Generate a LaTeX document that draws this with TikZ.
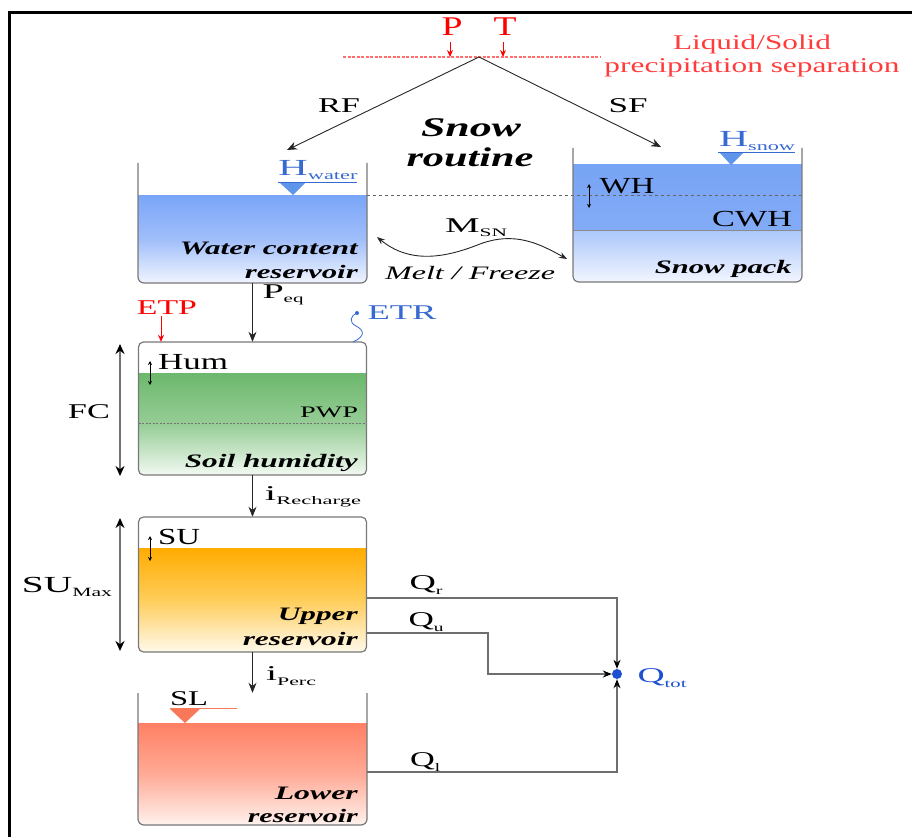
\documentclass[tikz,border=0pt]{standalone}
\usepackage{fontspec}
\setmainfont{LiberationSerif}[Extension=.ttf, UprightFont=*-Regular, BoldFont=*-Bold, ItalicFont=*-Italic, BoldItalicFont=*-BoldItalic]
\usepackage{graphicx}
\usetikzlibrary{arrows.meta,calc}

\definecolor{pred}{RGB}{255,0,0}
\definecolor{lred}{RGB}{255,60,60}
\definecolor{dred}{RGB}{255,110,110}
\definecolor{hblue}{RGB}{55,105,210}
\definecolor{tblue}{RGB}{95,150,235}
\definecolor{wtop}{RGB}{122,165,248}
\definecolor{wmid}{RGB}{160,190,250}
\definecolor{wbot}{RGB}{240,245,255}
\definecolor{stopc}{RGB}{120,164,245}
\definecolor{smid}{RGB}{170,198,250}
\definecolor{sbot}{RGB}{242,246,255}
\definecolor{gtop}{RGB}{108,184,108}
\definecolor{gmid}{RGB}{150,205,150}
\definecolor{gbot}{RGB}{242,249,242}
\definecolor{otop}{RGB}{255,172,0}
\definecolor{omid}{RGB}{255,205,90}
\definecolor{obot}{RGB}{255,249,235}
\definecolor{rtop}{RGB}{255,128,100}
\definecolor{rmid}{RGB}{255,170,150}
\definecolor{rbot}{RGB}{255,242,238}
\definecolor{rimc}{RGB}{120,120,120}
\definecolor{qline}{RGB}{110,110,110}
\definecolor{salm}{RGB}{250,120,90}
\definecolor{qdot}{RGB}{30,80,210}

\newcommand\fw[2]{\resizebox{#1pt}{\height}{#2}}
\newcommand\sbs[1]{\raisebox{-0.45ex}{\scalebox{0.55}{#1}}}

\tikzset{
 lbl/.style={inner sep=0pt, font=\fontsize{21}{24}\selectfont},
 lbb/.style={inner sep=0pt, font=\fontsize{23}{26}\selectfont},
 bxl/.style={inner sep=0pt, anchor=east, font=\fontsize{19}{22}\selectfont\bfseries\itshape},
 box/.style={inner sep=0pt, draw=none},
 rim/.style={draw=rimc, line width=1.2pt},
 arr/.style={draw=black!85, line width=0.9pt, -{Stealth[length=10pt,width=8pt]}},
 redarr/.style={draw=pred, line width=1pt, -{Stealth[length=7pt,width=6pt]}},
 qln/.style={draw=qline, line width=1.2pt, -{Stealth[length=9pt,width=7pt,color=black]}},
 dblarr/.style={draw=black!55, line width=2.5pt, {Stealth[length=10pt,width=9pt,color=black]}-{Stealth[length=10pt,width=9pt,color=black]}},
 sdbl/.style={draw=black, line width=0.7pt, {Stealth[length=4pt,width=4pt]}-{Stealth[length=4pt,width=4pt]}},
 lvldash/.style={draw=black!60, line width=0.7pt, dash pattern=on 3pt off 3pt},
}

\begin{document}
\begin{tikzpicture}[x=1pt,y=-1pt]
\useasboundingbox (0,0) rectangle (912,837);

% frame
\draw[line width=3pt] (9,837) -- (9,13) -- (912,13);

% ---------- box placeholders (names) ----------
\node[box, minimum width=229pt, minimum height=120pt] (wcr) at (252.5,223) {};
\node[box, minimum width=229pt, minimum height=134pt] (snow) at (687.5,215) {};
\node[box, minimum width=228pt, minimum height=133pt] (soil) at (252.5,408.5) {};
\node[box, minimum width=228pt, minimum height=135pt] (upper) at (252.5,584.5) {};
\node[box, minimum width=229pt, minimum height=132pt] (lower) at (252.5,759) {};

% ---------- precipitation separation ----------
\node[lbl, text=pred, font=\fontsize{27}{28}\selectfont] (lP) at (452,27) {\fw{21}{P}};
\node[lbl, text=pred, font=\fontsize{27}{28}\selectfont] (lT) at (505,27) {\fw{23}{T}};
\coordinate (pA) at (450,42); \coordinate (pB) at (450,57);
\coordinate (tA) at (503,42); \coordinate (tB) at (503,57);
\draw[redarr] (pA) -- (pB);
\draw[redarr] (tA) -- (tB);
\coordinate (sepL) at (343,57); \coordinate (sepR) at (601,57);
\draw[draw=dred, line width=1.1pt, dash pattern=on 3pt off 1.5pt] (sepL) -- (sepR);
\node[lbl, text=lred] (liq) at (752,44) {\fw{158}{Liquid/Solid}};
\node[lbl, text=lred] (prec) at (752,68) {\fw{295}{precipitation separation}};

\coordinate (apex) at (479,57);
\coordinate (rfEnd) at (287,150);
\coordinate (sfEnd) at (661,147);
\draw[arr] (apex) -- (rfEnd);
\draw[arr] (apex) -- (sfEnd);
\node[lbl] (lRF) at (339,106) {\fw{42}{RF}};
\node[lbl] (lSF) at (628,106) {\fw{39}{SF}};
\node[lbl, font=\fontsize{27}{28}\selectfont\bfseries\itshape] (lSnow) at (471,128) {\fw{100}{Snow}};
\node[lbl, font=\fontsize{27}{28}\selectfont\bfseries\itshape] (lRoutine) at (470,157) {\fw{127}{routine}};

% ---------- water content reservoir ----------
\begin{scope}
\clip[rounded corners=6pt] (138,140) rectangle (367,283);
\shade[top color=wtop, bottom color=wbot, middle color=wmid] (138,195) rectangle (367,283);
\end{scope}
\draw[rim, rounded corners=6pt] (138,163) -- (138,283) -- (367,283) -- (367,163);
\fill[tblue] (280,183) -- (305,183) -- (293,195) -- cycle;
\draw[hblue, line width=0.8pt] (278,182.5) -- (357,182.5);
\node[lbb, text=hblue] (lHw) at (318,170) {\fw{79}{H\sbs{water}}};
\node[bxl] (lWc1) at (358,248) {\fw{178}{Water content}};
\node[bxl] (lWc2) at (358,272) {\fw{113}{reservoir}};

% ---------- snow pack ----------
\begin{scope}
\clip[rounded corners=6pt] (573,130) rectangle (802,282);
\shade[top color=stopc, bottom color=stopc!92!white] (573,165) rectangle (802,230);
\shade[top color=smid, bottom color=sbot] (573,230) rectangle (802,282);
\end{scope}
\draw[draw=black!45, line width=0.8pt] (573,230) -- (802,230);
\draw[lvldash] (367,195) -- (802,195);
\draw[rim, rounded corners=6pt] (573,148) -- (573,282) -- (802,282) -- (802,148);
\fill[tblue] (720,153) -- (743,153) -- (731,165) -- cycle;
\draw[hblue, line width=0.8pt] (718,152.5) -- (795,152.5);
\node[lbb, text=hblue] (lHs) at (757,141) {\fw{76}{H\sbs{snow}}};
\coordinate (whA) at (589,184); \coordinate (whB) at (589,208);
\draw[sdbl] (whA) -- (whB);
\node[lbb] (lWH) at (627,186) {\fw{55}{WH}};
\node[lbb] (lCWH) at (752,219) {\fw{80}{CWH}};
\node[bxl] (lSp) at (792,269) {\fw{137}{Snow pack}};

% melt / freeze
\coordinate (msn0) at (377,237);
\coordinate (msn1) at (567,259);
\draw[draw=black!85, line width=0.9pt, {Stealth[length=8pt,width=6pt]}-{Stealth[length=8pt,width=6pt]}]
  (msn0) .. controls (410,264) and (445,258) .. (480,244) .. controls (515,231) and (540,244) .. (msn1);
\node[lbl] (lMsn) at (476,228) {\fw{62}{M\sbs{SN}}};
\node[lbl, font=\fontsize{19}{22}\selectfont\itshape] (lMelt) at (470,273) {\fw{170}{Melt / Freeze}};

% ---------- soil humidity ----------
\draw[arr] (wcr.south) -- (soil.north);
\node[lbl] (lPeq) at (283,295) {\fw{41}{P\sbs{eq}}};
\begin{scope}
\clip[rounded corners=5pt] (138.5,342) rectangle (366.5,475);
\shade[top color=gtop, bottom color=gbot, middle color=gmid] (138.5,373) rectangle (366.5,475);
\end{scope}
\draw[draw=black!55, line width=0.6pt, dash pattern=on 2pt off 1.5pt] (138.5,423) -- (366.5,423);
\draw[rim, rounded corners=5pt] (138.5,342) rectangle (366.5,475);
\node[lbl, text=pred] (lETP) at (167,308) {\fw{60}{ETP}};
\coordinate (etpA) at (161,316);
\draw[redarr] (etpA) -- (etpA |- soil.north);
\node[lbl, text=hblue] (lETR) at (402,313) {\fw{69}{ETR}};
\coordinate (etr0) at (353,342); \coordinate (etr1) at (357,313);
\draw[draw=hblue, line width=0.8pt] (etr0) .. controls (366,336) and (364,330) .. (356,326) .. controls (348,322) and (351,315) .. (etr1);
\fill[hblue] (etr1) circle (2pt);
\coordinate (humA) at (150,361); \coordinate (humB) at (150,385);
\draw[sdbl] (humA) -- (humB);
\node[lbb] (lHum) at (193,362) {\fw{70}{Hum}};
\node[lbl, font=\fontsize{16}{18}\selectfont] (lPWP) at (329,412) {\fw{58}{PWP}};
\node[bxl] (lSoil) at (358,463) {\fw{173}{Soil humidity}};
\coordinate (fcA) at (120,344); \coordinate (fcB) at (120,476);
\draw[dblarr] (fcA) -- (fcB);
\node[lbl] (lFC) at (89,412) {\fw{42}{FC}};

% ---------- upper reservoir ----------
\draw[arr] (soil.south) -- (upper.north);
\node[lbl] (lRech) at (313,497) {\fw{96}{i\sbs{Recharge}}};
\begin{scope}
\clip[rounded corners=5pt] (138.5,517) rectangle (366.5,652);
\shade[top color=otop, bottom color=obot, middle color=omid] (138.5,548) rectangle (366.5,652);
\end{scope}
\draw[rim, rounded corners=5pt] (138.5,517) rectangle (366.5,652);
\coordinate (suA) at (150,536); \coordinate (suB) at (150,561);
\draw[sdbl] (suA) -- (suB);
\node[lbb] (lSU) at (179,537) {\fw{42}{SU}};
\node[bxl] (lUp1) at (358,616) {\fw{80}{Upper}};
\node[bxl] (lUp2) at (358,639) {\fw{115}{reservoir}};
\coordinate (smA) at (120,518); \coordinate (smB) at (120,651);
\draw[dblarr] (smA) -- (smB);
\node[lbb] (lSUM) at (67,587) {\fw{90}{SU\sbs{Max}}};

% ---------- lower reservoir ----------
\draw[arr] (upper.south) -- (lower.north);
\node[lbl] (lPerc) at (291,676) {\fw{50}{i\sbs{Perc}}};
\begin{scope}
\clip[rounded corners=6pt] (138,680) rectangle (367,825);
\shade[top color=rtop, bottom color=rbot, middle color=rmid] (138,723) rectangle (367,825);
\end{scope}
\draw[rim, rounded corners=6pt] (138,693) -- (138,825) -- (367,825) -- (367,693);
\fill[salm] (170,709) -- (200,709) -- (185,723) -- cycle;
\draw[salm, line width=0.9pt] (170,708.5) -- (237,708.5);
\node[lbl] (lSL) at (189,699) {\fw{38}{SL}};
\node[bxl] (lLo1) at (358,793) {\fw{83}{Lower}};
\node[bxl] (lLo2) at (358,816) {\fw{110}{reservoir}};

% ---------- outflows ----------
\node[circle, fill=qdot, minimum size=10pt, inner sep=0pt] (qtot) at (617,674) {};
\coordinate (qr0) at (367,598);
\coordinate (qu0) at (367,633);
\coordinate (qu1) at (488,633);
\coordinate (ql0) at (367,772);
\draw[qln] (qr0) -| (qtot.north);
\draw[qln] (qu0) -- (qu1) |- (qtot.west);
\draw[qln] (ql0) -| (qtot.south);
\node[lbl] (lQr) at (426,585) {\fw{33}{Q\sbs{r}}};
\node[lbl] (lQu) at (426,622) {\fw{35}{Q\sbs{u}}};
\node[lbl] (lQl) at (425,762) {\fw{30}{Q\sbs{l}}};
\node[lbl, text=qdot] (lQtot) at (662,678) {\fw{49}{Q\sbs{tot}}};

\end{tikzpicture}
\end{document}
